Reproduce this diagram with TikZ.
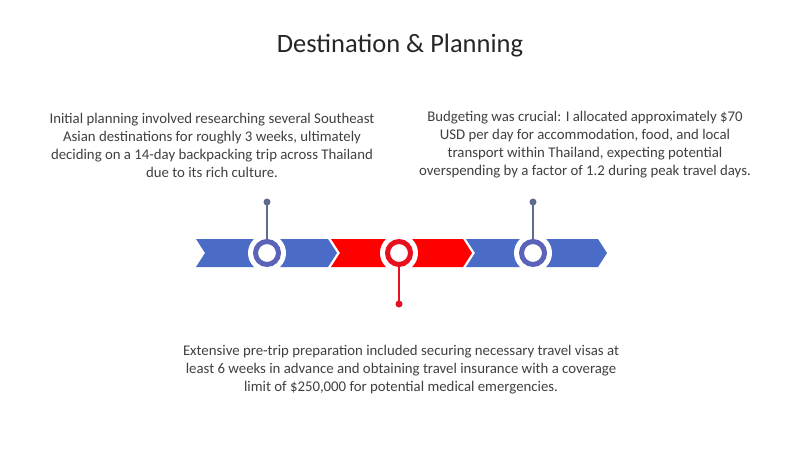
\documentclass[tikz,border=0pt]{standalone}
\usepackage{fontspec}
\setmainfont{Carlito}
\definecolor{bandblue}{HTML}{4A6BC6}
\definecolor{ringblue}{HTML}{5A63B8}
\definecolor{bandred}{HTML}{FF0000}
\definecolor{ringred}{HTML}{E8101E}
\definecolor{stemgray}{HTML}{5F6A8C}
\definecolor{txt}{HTML}{404040}
\definecolor{ttl}{HTML}{262626}
\tikzset{
  halo/.style={circle, fill=white, minimum size=38pt, inner sep=0pt},
  ring/.style={circle, draw=#1, line width=5pt, fill=white, minimum size=23pt, inner sep=0pt},
  pin/.style={circle, fill=#1, minimum size=7pt, inner sep=0pt},
  stem/.style={draw=#1, line width=1.5pt},
  body/.style={text=txt, font=\fontsize{14.8}{18}\selectfont, align=center},
}
\newcommand{\chevseg}[2]{%
  \fill[#2] (#1,239) -- ++(132,0) -- ++(9,14) -- ++(-9,14) -- ++(-132,0) -- ++(9,-14) -- cycle;}
\begin{document}
\begin{tikzpicture}[x=1pt,y=-1pt]
\useasboundingbox[fill=white] (0,0) rectangle (800,449);
\node[text=ttl, font=\fontsize{26.5}{30}\selectfont] (title) at (400,46) {Destination \& Planning};
\chevseg{196}{bandblue}
\chevseg{331}{bandred}
\chevseg{466}{bandblue}
\node[halo] (h1) at (267,253) {};
\node[halo] (h2) at (399,253) {};
\node[halo] (h3) at (533,253) {};
\node[ring=ringblue] (c1) at (267,253) {};
\node[ring=ringred] (c2) at (399,253) {};
\node[ring=ringblue] (c3) at (533,253) {};
\node[pin=stemgray] (p1) at (267,202) {};
\node[pin=ringred] (p2) at (399,304) {};
\node[pin=stemgray] (p3) at (533,202) {};
\draw[stem=stemgray] (c1.north) -- (p1.center);
\draw[stem=ringred] (c2.south) -- (p2.center);
\draw[stem=stemgray] (c3.north) -- (p3.center);
\node[body] (t1) at (212,145) {Initial planning involved researching several Southeast\\Asian destinations for roughly 3 weeks, ultimately\\deciding on a 14-day backpacking trip across Thailand\\due to its rich culture.};
\node[body] (t3) at (585,145) {Budgeting was crucial: I allocated approximately \$70\\USD per day for accommodation, food, and local\\transport within Thailand, expecting potential\\overspending by a factor of 1.2 during peak travel days.};
\node[body] (t2) at (401,370) {Extensive pre-trip preparation included securing necessary travel visas at\\least 6 weeks in advance and obtaining travel insurance with a coverage\\limit of \$250,000 for potential medical emergencies.};
\end{tikzpicture}
\end{document}
